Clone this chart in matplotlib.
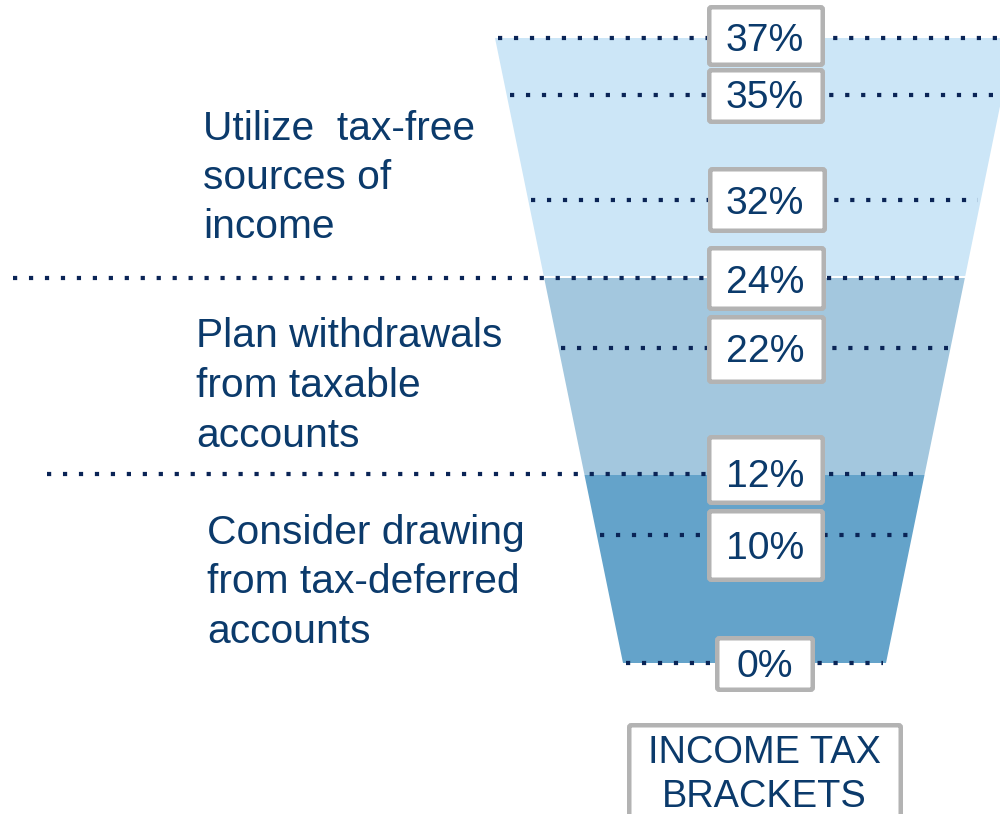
import matplotlib
matplotlib.use("Agg")
import matplotlib.pyplot as plt
from matplotlib.patches import Polygon, FancyBboxPatch

# Federal income tax brackets, top to bottom
brackets = ["37%", "35%", "32%", "24%", "22%", "12%", "10%", "0%"]

# Withdrawal strategy for each group of brackets
strategies = [
    ["Utilize  tax-free", "sources of", "income"],
    ["Plan withdrawals", "from taxable", "accounts"],
    ["Consider drawing", "from tax-deferred", "accounts"],
]
footer = ["INCOME TAX", "BRACKETS"]

# ---- layout (pixel-like units, y grows downward) ----
W, H = 1000, 814
level_y = [38, 95, 200, 278, 348, 474, 535, 663]       # dotted line per bracket
box_top = [5, 68, 167, 246, 315, 435, 509, 636]
box_bot = [67, 124, 233, 311, 384, 505, 582, 692]
box_x0 = [707, 707, 708, 707, 707, 707, 707, 715]
box_x1 = [825, 825, 827, 826, 826, 825, 825, 815]
text_base = [51, 108, 214, 293, 362, 487, 559, 677]
text_cx = 765
# long dotted dividers that run under the strategy text
divider_left = {3: 13, 5: 47}

band_edges = [38, 278, 475, 663]
band_colors = ["#cce6f7", "#a3c7de", "#64a3ca"]
funnel_left_top, funnel_right_top = 495, 1014
slope = 128 / 625.0

strategy_x = [203, 196, 207]
strategy_base = [[140, 189, 238], [347, 397, 447], [544, 593, 643]]

navy = "#0b3a6b"
dot_col = "#0a2456"
grey = "#b3b3b3"
font = "Liberation Sans"
fs = 28.2
fs_strategy = 29.3
fs_footer = 27.4


def left_edge(y):
    return funnel_left_top + slope * (y - band_edges[0])


def right_edge(y):
    return funnel_right_top - slope * (y - band_edges[0])


fig = plt.figure(figsize=(W / 100, H / 100), dpi=100)
ax = fig.add_axes([0, 0, 1, 1])
ax.set_xlim(0, W)
ax.set_ylim(H, 0)
ax.axis("off")

# funnel bands
for i, col in enumerate(band_colors):
    y0, y1 = band_edges[i], band_edges[i + 1]
    poly = Polygon([(left_edge(y0), y0), (right_edge(y0), y0),
                    (right_edge(y1), y1), (left_edge(y1), y1)],
                   closed=True, facecolor=col, edgecolor="none", zorder=1)
    ax.add_patch(poly)
# thin white seam between the top two bands
ax.plot([left_edge(band_edges[1]), right_edge(band_edges[1])],
        [band_edges[1] - 1, band_edges[1] - 1], color="white", lw=1.4,
        zorder=1.5)

# dotted bracket lines: 4 px squares every 16 px
lw_pt = 4.2 * 72 / 100
for i, y in enumerate(level_y):
    x0 = divider_left.get(i, left_edge(y) + 3)
    x1 = min(right_edge(y) - 3, W + 5)
    ax.plot([x0, x1], [y, y], color=dot_col, lw=lw_pt,
            linestyle=(0, (1, 2.8)), dash_capstyle="butt", zorder=2)

# bracket boxes and labels
box_lw = 4.5
for i, lab in enumerate(brackets):
    inset = box_lw / 2
    x0, x1 = box_x0[i] + inset, box_x1[i] - inset
    y0, y1 = box_top[i] + inset, box_bot[i] - inset
    ax.add_patch(FancyBboxPatch((x0, y0), x1 - x0, y1 - y0,
                                boxstyle="round,pad=0,rounding_size=2",
                                facecolor="white", edgecolor=grey,
                                lw=box_lw * 72 / 100, zorder=3))
    ax.text(text_cx, text_base[i], lab, ha="center", va="baseline",
            fontsize=fs, color=navy, family=font, zorder=4)

# footer box
inset = box_lw / 2
ax.add_patch(FancyBboxPatch((627 + inset, 723 + inset), 276 - 2 * inset, 120,
                            boxstyle="round,pad=0,rounding_size=2",
                            facecolor="white", edgecolor=grey,
                            lw=box_lw * 72 / 100, zorder=3))
for line, yb in zip(footer, [763, 807]):
    ax.text(764, yb, line, ha="center", va="baseline", fontsize=fs_footer,
            color=navy, family=font, zorder=4)

# strategy text
for lines, x, bases in zip(strategies, strategy_x, strategy_base):
    for line, yb in zip(lines, bases):
        ax.text(x, yb, line, ha="left", va="baseline", fontsize=fs_strategy,
                color=navy, family=font, zorder=4)

fig.savefig("out.png", dpi=100)
